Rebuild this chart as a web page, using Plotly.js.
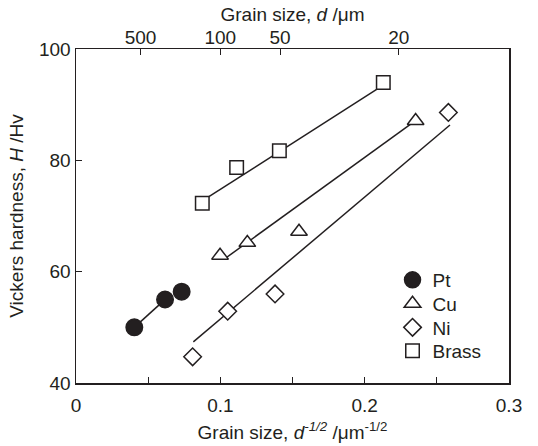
<!DOCTYPE html>
<html>
<head>
<meta charset="utf-8">
<script src="https://cdn.plot.ly/plotly-3.0.1.min.js"></script>
<style>html,body{margin:0;padding:0;background:#fff;}#chart{width:538px;height:446px;}</style>
</head>
<body>
<div id="chart"></div>
<script>
// Data (x = d^-1/2 in µm^-1/2, y = Vickers hardness Hv)
const ptX = [0.0404, 0.0617, 0.0732];
const ptY = [50.0, 55.0, 56.4];
const cuX = [0.0998, 0.1187, 0.1545, 0.2353];
const cuY = [62.9, 65.2, 67.2, 87.1];
const niX = [0.0808, 0.1051, 0.1379, 0.2580];
const niY = [44.7, 52.9, 56.0, 88.6];
const brassX = [0.0875, 0.1113, 0.1409, 0.2129];
const brassY = [72.3, 78.7, 81.7, 94.0];

// Fitted lines (end points)
const ptFitX = [0.0404, 0.066];
const ptFitY = [50.0, 56.0];
const cuFitX = [0.104, 0.2326];
const cuFitY = [62.5, 86.65];
const niFitX = [0.0813, 0.2591];
const niFitY = [47.4, 86.35];
const brassFitX = [0.085, 0.2083];
const brassFitY = [72.3, 92.76];

// Axis ticks
const bottomTickVals = [0, 0.1, 0.2, 0.3];
const bottomTickText = ['0', '0.1', '0.2', '0.3'];
const yTickVals = [40, 60, 80, 100];
const topGrainSizes = [500, 100, 50, 20];   // d in µm
const topTickVals = topGrainSizes.map(d => 1 / Math.sqrt(d));
const topTickText = topGrainSizes.map(String);

const ink = '#231f20';
const fontFam = '"Liberation Sans", Arial, Helvetica, sans-serif';
const fs = 19;

function fitLine(x, y) {
  return {x: x, y: y, type: 'scatter', mode: 'lines', showlegend: false,
          line: {color: ink, width: 1.5}, hoverinfo: 'skip'};
}
function pts(x, y, name, symbol, size, fill, legendId) {
  return {x: x, y: y, type: 'scatter', mode: 'markers', name: name, legend: legendId,
          marker: {symbol: symbol, size: size, color: fill, line: {color: ink, width: 1.5}}};
}

const data = [
  fitLine(ptFitX, ptFitY),
  fitLine(cuFitX, cuFitY),
  fitLine(niFitX, niFitY),
  fitLine(brassFitX, brassFitY),
  pts(ptX, ptY, 'Pt', 'circle', 16.5, ink, 'legend'),
  pts(cuX, cuY, 'Cu', 'triangle-up', 14.5, '#ffffff', 'legend2'),
  pts(niX, niY, 'Ni', 'diamond', 13.5, '#ffffff', 'legend3'),
  pts(brassX, brassY, 'Brass', 'square', 13.5, '#ffffff', 'legend4'),
  {x: [0.3], y: [40], xaxis: 'x2', yaxis: 'y', type: 'scatter', mode: 'markers',
   marker: {opacity: 0}, showlegend: false, hoverinfo: 'skip'}
];

function leg(yPx) {
  return {x: 0.731, y: (383 - yPx) / 334, xanchor: 'left', yanchor: 'middle',
          bgcolor: 'rgba(0,0,0,0)', borderwidth: 0,
          font: {family: fontFam, size: fs, color: ink}};
}

const tickFont = {family: fontFam, size: fs, color: ink};

const layout = {
  width: 538, height: 446,
  margin: {l: 76, r: 29, t: 49, b: 63},
  paper_bgcolor: '#ffffff', plot_bgcolor: '#ffffff',
  font: {family: fontFam, size: fs, color: ink},
  showlegend: true,
  legend: leg(280),
  legend2: leg(303.7),
  legend3: leg(327.5),
  legend4: leg(351),
  xaxis: {
    range: [0, 0.3], tickmode: 'array', tickvals: bottomTickVals, ticktext: bottomTickText,
    ticks: 'inside', ticklen: 6, tickwidth: 1, tickcolor: ink,
    minor: {dtick: 0.05, ticks: 'inside', ticklen: 6, tickwidth: 1, tickcolor: ink, showgrid: false},
    showline: true, linecolor: ink, linewidth: 1.5, mirror: true,
    showgrid: false, zeroline: false, ticklabelstandoff: 5,
    tickfont: tickFont,
    title: {text: 'Grain size, <i>d<sup>-1/2</sup></i> /μm<sup>-1/2</sup>', standoff: 10,
            font: tickFont}
  },
  xaxis2: {
    overlaying: 'x', side: 'top', range: [0, 0.3], tickmode: 'array',
    tickvals: topTickVals, ticktext: topTickText,
    ticks: 'inside', ticklen: 6, tickwidth: 1, tickcolor: ink,
    showline: false, showgrid: false, zeroline: false,
    tickfont: tickFont,
    title: {text: 'Grain size, <i>d</i> /μm', standoff: 0, font: tickFont}
  },
  yaxis: {
    range: [40, 100], tickmode: 'array', tickvals: yTickVals,
    ticks: 'inside', ticklen: 6, tickwidth: 1, tickcolor: ink,
    showline: true, linecolor: ink, linewidth: 1.5, mirror: true,
    showgrid: false, zeroline: false,
    tickfont: tickFont,
    title: {text: 'Vickers hardness, <i>H</i> /Hv', standoff: 10, font: tickFont}
  }
};

Plotly.newPlot('chart', data, layout, {staticPlot: true, displayModeBar: false});
</script>
</body>
</html>
